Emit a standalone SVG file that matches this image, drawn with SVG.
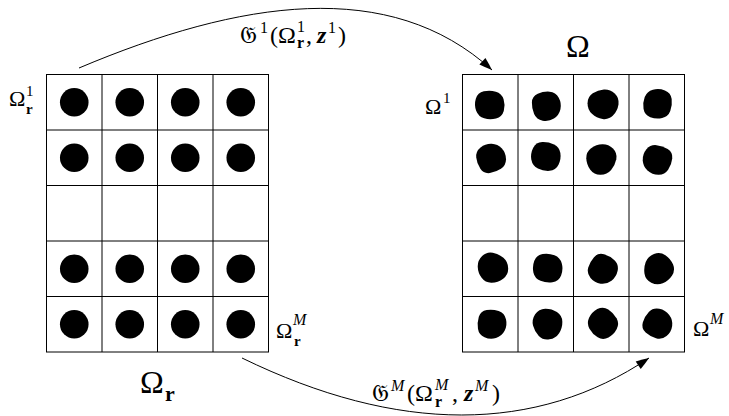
<svg xmlns="http://www.w3.org/2000/svg" width="729" height="416" viewBox="0 0 729 416">
<style>
.grid{fill:none;stroke:#000;stroke-width:1}
.dot{fill:#000}
.t{font-family:'Liberation Serif','DejaVu Serif',serif;font-size:22px;fill:#000}
.c{font-size:24px}
.s{font-size:15px}
.s2{font-size:16px}
.si{font-size:16px;font-style:italic}
.b{font-weight:bold}
.bi{font-weight:bold;font-style:italic}
.big{font-size:32px}
.frak{font-family:'DejaVu Serif','DejaVu Sans','Noto Sans',serif}
.conn{fill:none;stroke:#000;stroke-width:1}
</style>
<defs>
<marker id="arr" markerUnits="userSpaceOnUse" markerWidth="14" markerHeight="10" refX="13" refY="4.5" orient="auto" overflow="visible">
<path d="M0,0 Q7,2 13,4.5 Q7,7 0,9 Z" fill="#000"/>
</marker>
<path id="bA" d="M14.19,-6.19 Q16,0 14.01,6.01 Q12.02,12.02 6.01,13.76 Q0,15.5 -5.84,13.59 Q-11.67,11.67 -14.34,5.84 Q-17,0 -13.81,-5.31 Q-10.61,-10.61 -5.31,-13.56 Q0,-16.5 6.19,-14.44 Q12.37,-12.37 14.19,-6.19Z"/>
<path id="bB" d="M13.59,-5.84 Q15.5,0 13.76,6.01 Q12.02,12.02 6.01,13.51 Q0,15 -5.84,13.34 Q-11.67,11.67 -13.84,5.84 Q-16,0 -14.19,-6.19 Q-12.37,-12.37 -6.19,-13.69 Q0,-15 5.84,-13.34 Q11.67,-11.67 13.59,-5.84Z"/>
<path id="bC" d="M13.66,-5.66 Q16,0 13.84,5.84 Q11.67,11.67 5.84,13.09 Q0,14.5 -6.01,13.26 Q-12.02,12.02 -13.51,6.01 Q-15,0 -13.51,-6.01 Q-12.02,-12.02 -6.01,-14.01 Q0,-16 5.66,-13.66 Q11.31,-11.31 13.66,-5.66Z"/>
</defs>
<rect width="729" height="416" fill="#fff"/>

<g id="omega-r">
<rect class="grid" x="46.5" y="74.5" width="222" height="277.5"/>
<path class="grid" d="M102,74.5V352 M157.5,74.5V352 M213,74.5V352 M46.5,130H268.5 M46.5,185.5H268.5 M46.5,241H268.5 M46.5,296.5H268.5"/>
<g class="dot">
<circle cx="74.25" cy="102.25" r="14.3"/><circle cx="129.75" cy="102.25" r="14.3"/><circle cx="185.25" cy="102.25" r="14.3"/><circle cx="240.75" cy="102.25" r="14.3"/>
<circle cx="74.25" cy="157.75" r="14.3"/><circle cx="129.75" cy="157.75" r="14.3"/><circle cx="185.25" cy="157.75" r="14.3"/><circle cx="240.75" cy="157.75" r="14.3"/>
<circle cx="74.25" cy="268.75" r="14.3"/><circle cx="129.75" cy="268.75" r="14.3"/><circle cx="185.25" cy="268.75" r="14.3"/><circle cx="240.75" cy="268.75" r="14.3"/>
<circle cx="74.25" cy="324.25" r="14.3"/><circle cx="129.75" cy="324.25" r="14.3"/><circle cx="185.25" cy="324.25" r="14.3"/><circle cx="240.75" cy="324.25" r="14.3"/>
</g>
<text class="t"><tspan x="9" y="106">Ω</tspan><tspan class="s" x="26" y="96">1</tspan><tspan class="s b" x="26" y="114">r</tspan></text>
<text class="t"><tspan x="276" y="338">Ω</tspan><tspan class="si" x="293" y="325">M</tspan><tspan class="s b" x="294" y="346">r</tspan></text>
<text class="t"><tspan class="big" x="140" y="393">Ω</tspan><tspan class="b" x="165" y="401">r</tspan></text>
</g>

<g id="omega">
<rect class="grid" x="462.5" y="74.5" width="222" height="277.5"/>
<path class="grid" d="M518,74.5V352 M573.5,74.5V352 M629,74.5V352 M462.5,130H684.5 M462.5,185.5H684.5 M462.5,241H684.5 M462.5,296.5H684.5"/>
<g class="dot">
<use href="#bB" transform="translate(490,105)"/>
<use href="#bC" transform="translate(546,106) rotate(80)"/>
<use href="#bA" transform="translate(603,104) rotate(25)"/>
<use href="#bB" transform="translate(657.5,104) rotate(95)"/>
<use href="#bC" transform="translate(491,158.5) rotate(-20)"/>
<use href="#bB" transform="translate(546,156.5) rotate(10)"/>
<use href="#bA" transform="translate(601.5,159) rotate(160)"/>
<use href="#bC" transform="translate(657.5,159.5) rotate(200)"/>
<use href="#bA" transform="translate(492.5,267.5) rotate(70)"/>
<use href="#bB" transform="translate(547.5,268) rotate(185)"/>
<use href="#bC" transform="translate(602.5,269) rotate(120)"/>
<use href="#bA" transform="translate(658.5,269) rotate(-40)"/>
<use href="#bC" transform="translate(491.5,324) rotate(95)"/>
<use href="#bA" transform="translate(547.5,324) rotate(-75)"/>
<use href="#bB" transform="translate(603,323.5) rotate(45)"/>
<use href="#bC" transform="translate(657.5,324) rotate(30)"/>
</g>
<text class="t"><tspan x="425" y="114">Ω</tspan><tspan class="s" x="443" y="103">1</tspan></text>
<text class="t"><tspan x="693" y="336">Ω</tspan><tspan class="si" x="710" y="324">M</tspan></text>
<text class="t big" x="566" y="57">Ω</text>
</g>

<g id="connectors">
<path class="conn" d="M79,68 C240,0 390,-23 492,70" marker-end="url(#arr)"/>
<path class="conn" d="M242,358 C398,434 536,434 649,358" marker-end="url(#arr)"/>
<text class="t c"><tspan class="frak" x="240" y="43">𝔊</tspan><tspan class="s2" x="260" y="33">1</tspan><tspan x="270" y="43">(Ω</tspan><tspan class="s2" x="297" y="32">1</tspan><tspan class="s2 b" x="297" y="48">r</tspan><tspan x="306" y="43">,</tspan><tspan class="bi" x="317" y="43">z</tspan><tspan class="s2" x="328" y="33">1</tspan><tspan x="338" y="43">)</tspan></text>
<text class="t c"><tspan class="frak" x="372" y="401">𝔊</tspan><tspan class="si" x="391" y="391">M</tspan><tspan x="407" y="401">(Ω</tspan><tspan class="si" x="435" y="390">M</tspan><tspan class="s2 b" x="435" y="407">r</tspan><tspan x="452" y="401">,</tspan><tspan class="bi" x="464" y="401">z</tspan><tspan class="si" x="475" y="391">M</tspan><tspan x="492" y="401">)</tspan></text>
</g>
</svg>
